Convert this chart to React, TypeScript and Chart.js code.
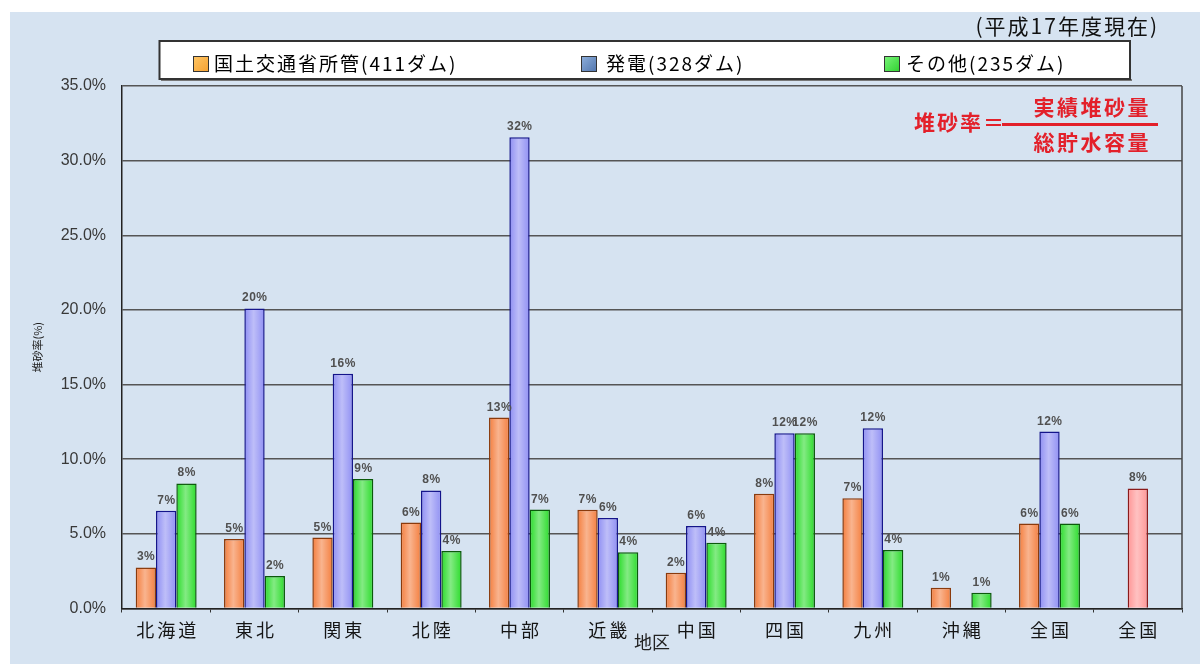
import React, { useEffect, useRef } from 'react';
import { Chart, registerables } from 'chart.js';

Chart.register(...registerables);

// ---- data ----
const categories = ['北海道', '東北', '関東', '北陸', '中部', '近畿', '中国', '四国', '九州', '沖縄', '全国', '全国'];
const mlitValues = [2.75, 4.66, 4.75, 5.76, 12.79, 6.61, 2.4, 7.68, 7.39, 1.39, 5.69, null];
const powerValues = [6.54, 20.1, 15.73, 7.91, 31.56, 6.07, 5.53, 11.74, 12.07, null, 11.85, null];
const otherValues = [8.38, 2.17, 8.67, 3.85, 6.63, 3.76, 4.41, 11.74, 3.92, 1.05, 5.69, null];
const nationalValues = [null, null, null, null, null, null, null, null, null, null, null, 8.04];
const legendLabels = ['国土交通省所管(411ダム)', '発電(328ダム)', 'その他(235ダム)'];
const headerNote = '(平成17年度現在)';
const formulaLabel = '堆砂率＝';
const formulaNumerator = '実績堆砂量';
const formulaDenominator = '総貯水容量';
const xTitle = '地区';
const yTitle = '堆砂率(%)';
const yMin = 0;
const yMax = 35;
const yStep = 5;

const CJK = '"Noto Sans CJK JP", "Noto Sans", sans-serif';
const LAT = '"Liberation Sans", Arial, sans-serif';

const backgroundPlugin = {
  id: 'bgPlugin',
  beforeDraw(chart: any) {
    const { ctx, width, height } = chart;
    ctx.save();
    ctx.fillStyle = '#ffffff';
    ctx.fillRect(0, 0, width, height);
    ctx.fillStyle = '#d6e3f1';
    ctx.fillRect(10, 12, width - 10, height - 12);
    ctx.restore();
  },
};

const spacedText = (ctx: any, text: string, x: number, y: number, spacing: number, align: string) => {
  ctx.letterSpacing = `${spacing}px`;
  ctx.textAlign = 'left';
  const w = ctx.measureText(text).width - spacing;
  let sx = x;
  if (align === 'center') sx = x - w / 2;
  else if (align === 'right') sx = x - w;
  ctx.fillText(text, sx, y);
  ctx.letterSpacing = '0px';
};

const barDecorPlugin = {
  id: 'barDecor',
  afterDatasetsDraw(chart: any) {
    const { ctx } = chart;
    ctx.save();
    chart.data.datasets.forEach((ds: any, i: number) => {
      const meta = chart.getDatasetMeta(i);
      meta.data.forEach((el: any, j: number) => {
        const v = ds.data[j];
        if (v === null || v === undefined) return;
        const { x, y, base, width } = el.getProps(['x', 'y', 'base', 'width'], true);
        const bw = 1.5;
        const l = x - width / 2 + bw;
        const r = x + width / 2 - bw;
        const g = ctx.createLinearGradient(l, 0, r, 0);
        g.addColorStop(0, 'rgba(255,255,255,0)');
        g.addColorStop(0.45, 'rgba(255,255,255,0.38)');
        g.addColorStop(1, 'rgba(255,255,255,0)');
        ctx.fillStyle = g;
        ctx.fillRect(l, y + bw, r - l, base - y - bw);
      });
    });
    // value labels
    ctx.font = `bold 12px ${LAT}`;
    ctx.fillStyle = '#505050';
    ctx.textBaseline = 'alphabetic';
    chart.data.datasets.forEach((ds: any, i: number) => {
      const meta = chart.getDatasetMeta(i);
      meta.data.forEach((el: any, j: number) => {
        const v = ds.data[j];
        if (v === null || v === undefined) return;
        const { x, y } = el.getProps(['x', 'y'], true);
        spacedText(ctx, `${Math.round(v)}%`, x, y - 7, 0.5, 'center');
      });
    });
    ctx.restore();
  },
};

const overlayPlugin = {
  id: 'overlay',
  afterDraw(chart: any) {
    const { ctx, chartArea } = chart;
    ctx.save();
    // right frame line
    ctx.strokeStyle = '#444';
    ctx.lineWidth = 1.5;
    ctx.beginPath();
    ctx.moveTo(chartArea.right, chartArea.top);
    ctx.lineTo(chartArea.right, chartArea.bottom);
    ctx.stroke();

    // category labels (positions from the library's x scale)
    const xs = chart.scales.x;
    ctx.font = `18px ${CJK}`;
    ctx.fillStyle = '#151515';
    ctx.textBaseline = 'middle';
    categories.forEach((c, i) => {
      spacedText(ctx, c, xs.getPixelForTick(i), 630, 3, 'center');
    });

    // header note
    ctx.font = `21px ${CJK}`;
    ctx.fillStyle = '#111';
    ctx.textBaseline = 'middle';
    spacedText(ctx, headerNote, 1157, 26, 2, 'right');

    // legend box
    ctx.fillStyle = '#777';
    ctx.fillRect(161, 79, 971, 2);
    ctx.fillStyle = '#ffffff';
    ctx.fillRect(159.5, 41, 970.5, 38);
    ctx.strokeStyle = '#333';
    ctx.lineWidth = 2;
    ctx.strokeRect(159.5, 41, 970.5, 38);

    const items = [
      { sx: 193, tx: 214, c0: '#ffc766', c1: '#f5a030', text: legendLabels[0] },
      { sx: 581, tx: 606, c0: '#8fb0dc', c1: '#4f74ad', text: legendLabels[1] },
      { sx: 884, tx: 906, c0: '#7cf57c', c1: '#2ed12e', text: legendLabels[2] },
    ];
    items.forEach((it) => {
      const g = ctx.createLinearGradient(it.sx, 56, it.sx + 16, 72);
      g.addColorStop(0, it.c0);
      g.addColorStop(1, it.c1);
      ctx.fillStyle = g;
      ctx.fillRect(it.sx, 56, 16, 16);
      ctx.strokeStyle = '#333';
      ctx.lineWidth = 1;
      ctx.strokeRect(it.sx + 0.5, 56.5, 15, 15);
      ctx.font = `19px ${CJK}`;
      ctx.fillStyle = '#000';
      ctx.textBaseline = 'middle';
      spacedText(ctx, it.text, it.tx, 64, 2, 'left');
    });

    // formula
    ctx.fillStyle = '#e3202a';
    ctx.strokeStyle = '#e3202a';
    ctx.font = `bold 21px ${CJK}`;
    ctx.textBaseline = 'middle';
    spacedText(ctx, formulaLabel, 914, 122, 2, 'left');
    ctx.lineWidth = 3;
    ctx.beginPath();
    ctx.moveTo(1002, 124.5);
    ctx.lineTo(1158, 124.5);
    ctx.stroke();
    spacedText(ctx, formulaNumerator, 1091, 107, 2.5, 'center');
    spacedText(ctx, formulaDenominator, 1091, 142, 2.5, 'center');
    ctx.restore();
  },
};

export default function App() {
  const canvasRef = useRef<HTMLCanvasElement | null>(null);

  useEffect(() => {
    if (!canvasRef.current) return;
    const common = { borderWidth: 1.5, categoryPercentage: 0.69, barPercentage: 1.0 };
    const chart = new Chart(canvasRef.current, {
      type: 'bar',
      data: {
        labels: categories,
        datasets: [
          { label: legendLabels[0], data: mlitValues, stack: 'a', backgroundColor: '#f5864a', borderColor: '#8a3a0c', ...common },
          { label: legendLabels[1], data: powerValues, stack: 'b', backgroundColor: '#9696f4', borderColor: '#14148a', ...common },
          { label: legendLabels[2], data: otherValues, stack: 'c', backgroundColor: '#38de38', borderColor: '#0b5a0b', ...common },
          { label: '全国', data: nationalValues, stack: 'b', backgroundColor: '#ff9c9c', borderColor: '#8a1a1a', ...common },
        ] as any,
      },
      options: {
        animation: false,
        responsive: true,
        maintainAspectRatio: false,
        layout: { padding: { top: 86, right: 18, left: 0, bottom: 0 } },
        plugins: {
          legend: { display: false },
          tooltip: { enabled: false },
        },
        scales: {
          x: {
            grid: { display: true, drawOnChartArea: false, drawTicks: true, tickLength: 4, color: '#333', lineWidth: 1 },
            border: { display: true, color: '#222', width: 1.5 },
            ticks: { font: { family: CJK, size: 18 }, color: 'rgba(0,0,0,0)', padding: 6, maxRotation: 0, autoSkip: false },
            title: { display: true, text: xTitle, font: { family: CJK, size: 18 }, color: '#222', padding: { top: 0, bottom: 11 } },
            afterFit: (s: any) => { s.height = 55.5; },
          },
          y: {
            stacked: true,
            min: yMin,
            max: yMax,
            grid: { color: '#555', lineWidth: 1.5, drawTicks: false },
            border: { display: true, color: '#222', width: 1.5 },
            ticks: {
              stepSize: yStep,
              padding: 16,
              font: { family: LAT, size: 16 },
              color: '#383838',
              callback: (v: any) => `${Number(v).toFixed(1)}%`,
            },
            title: { display: true, text: yTitle, font: { family: CJK, size: 11 }, color: '#222', padding: { top: 31, bottom: 0 } },
            afterFit: (s: any) => { s.width = 122; },
          },
        },
      } as any,
      plugins: [backgroundPlugin, barDecorPlugin, overlayPlugin],
    });
    return () => chart.destroy();
  }, []);

  return (
    <div style={{ position: 'fixed', left: 0, top: 0, width: 1200, height: 664 }}>
      <canvas ref={canvasRef} />
    </div>
  );
}
